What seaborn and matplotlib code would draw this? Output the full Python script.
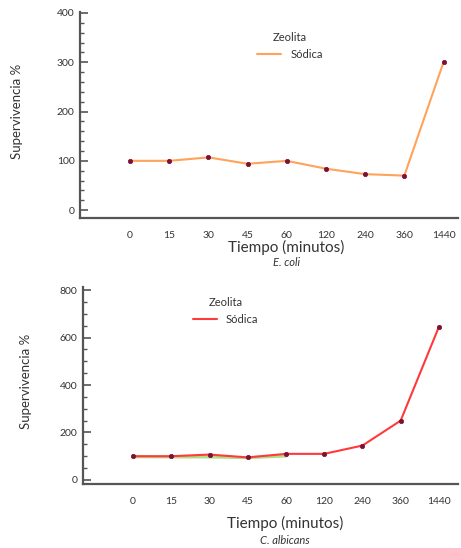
import numpy as np
import pandas as pd
import matplotlib
matplotlib.use("Agg")
import matplotlib.pyplot as plt
import seaborn as sns
from matplotlib.ticker import MultipleLocator

# data
tiempos = ["0", "15", "30", "45", "60", "120", "240", "360", "1440"]
ecoli_sodica = [100, 100, 107, 94, 100, 84, 73, 70, 300]
calb_sodica = [100, 100, 107, 95, 110, 110, 145, 250, 645]
calb_rastro = [98, 97, 97, 94, 101, np.nan, np.nan, np.nan, np.nan]  # faint green trace under red

sns.set_style("white")
plt.rcParams["font.family"] = ["Lato", "DejaVu Sans"]

TXT = "#333333"
SPINE = "#555555"
MARK = "#7a1236"


def style_axes(ax, ylim, major, minor, xlim):
    sns.despine(ax=ax)
    for s in ("left", "bottom"):
        ax.spines[s].set_color(SPINE)
        ax.spines[s].set_linewidth(1.6)
    ax.set_ylim(*ylim)
    ax.set_xlim(*xlim)
    ax.yaxis.set_major_locator(MultipleLocator(major))
    ax.yaxis.set_minor_locator(MultipleLocator(minor))
    ax.tick_params(axis="y", which="major", direction="in", length=6, width=1.2,
                   color=SPINE, labelsize=7.5, labelcolor=TXT, pad=4, left=True)
    ax.tick_params(axis="y", which="minor", direction="in", length=3, width=1,
                   color=SPINE, left=True)
    ax.tick_params(axis="x", length=0, labelsize=7.5, labelcolor=TXT, pad=9)
    ax.set_ylabel("Supervivencia %", fontsize=9.5, color=TXT)


def panel(ax, values, color, extra=None):
    df = pd.DataFrame({"Tiempo": tiempos, "valor": values})
    if extra is not None:
        dfe = pd.DataFrame({"Tiempo": tiempos, "valor": extra})
        sns.lineplot(data=dfe, x="Tiempo", y="valor", ax=ax, color="#9ad66a",
                     linewidth=2.2, alpha=0.8, sort=False)
    sns.lineplot(data=df, x="Tiempo", y="valor", ax=ax, color=color,
                 linewidth=1.5, sort=False, label="Sódica")
    sns.scatterplot(data=df, x="Tiempo", y="valor", ax=ax, color=MARK,
                    s=10, edgecolor=MARK, linewidth=0.5, zorder=5, legend=False)


fig = plt.figure(figsize=(4.61, 5.48), dpi=100)

# top: E. coli
ax1 = fig.add_axes([80 / 461, 1 - 218 / 548, 378 / 461, 206 / 548])
panel(ax1, ecoli_sodica, "#ffa25a")
style_axes(ax1, (-16, 402), 100, 20, (-1.28, 8.37))
ax1.yaxis.set_label_coords(-0.151, 0.52)
ax1.set_xlabel("Tiempo (minutos)", fontsize=11, color=TXT)
ax1.xaxis.set_label_coords(0.545, -0.105)
ax1.text(0.545, -0.218, "E. coli", transform=ax1.transAxes, ha="center",
         va="center", fontsize=8, style="italic", color=TXT)
leg1 = ax1.legend(title="Zeolita", frameon=False, loc="upper center",
                  bbox_to_anchor=(0.555, 0.95), fontsize=8, title_fontsize=8,
                  handlelength=2.2)
for t in leg1.get_texts():
    t.set_color(TXT)
leg1.get_title().set_color(TXT)

# bottom: C. albicans
ax2 = fig.add_axes([83 / 461, 1 - 484 / 548, 375 / 461, 197 / 548])
panel(ax2, calb_sodica, "#ff3a3a", extra=calb_rastro)
style_axes(ax2, (-17, 813), 200, 50, (-1.31, 8.5))
ax2.yaxis.set_label_coords(-0.137, 0.52)
ax2.set_xlabel("Tiempo (minutos)", fontsize=11, color=TXT)
ax2.xaxis.set_label_coords(0.539, -0.16)
ax2.text(0.539, -0.289, "C. albicans", transform=ax2.transAxes, ha="center",
         va="center", fontsize=8, style="italic", color=TXT)
leg2 = ax2.legend(title="Zeolita", frameon=False, loc="upper center",
                  bbox_to_anchor=(0.38, 1.0), fontsize=8, title_fontsize=8,
                  handlelength=2.2)
for t in leg2.get_texts():
    t.set_color(TXT)
leg2.get_title().set_color(TXT)

fig.savefig("out.png", dpi=100)
